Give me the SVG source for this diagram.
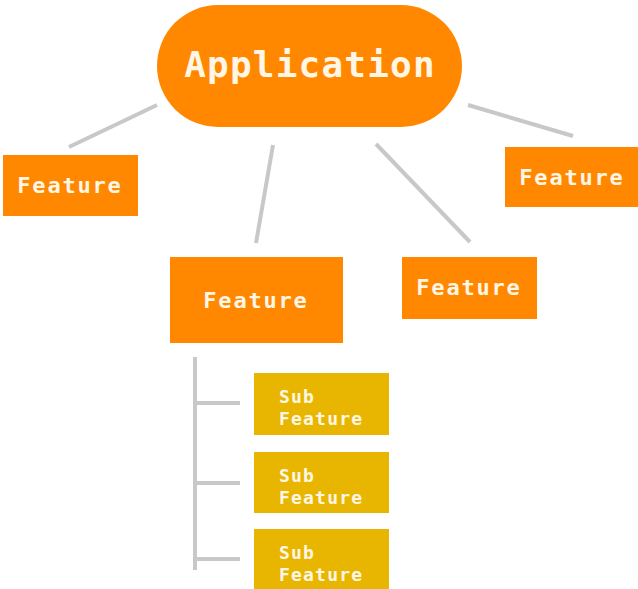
<svg xmlns="http://www.w3.org/2000/svg" width="638" height="589" viewBox="0 0 638 589">
<style>
.feat{fill:#FF8800}
.sub{fill:#E8B600}
.t{font-family:"DejaVu Sans Mono","Liberation Mono",monospace;font-weight:bold;fill:#FFF6E6}
.ft{font-size:22px;letter-spacing:1.8px;text-anchor:middle}
.st{font-size:18px;letter-spacing:1.2px}
.c{stroke:#C8C8C8;stroke-width:4;fill:none;stroke-linecap:butt}
</style>
<rect width="638" height="589" fill="#FFFFFF"/>
<g id="connectors">
<line class="c" x1="157" y1="105" x2="69" y2="147"/>
<line class="c" x1="273" y1="145" x2="256" y2="243"/>
<line class="c" x1="376" y1="144" x2="470" y2="242"/>
<line class="c" x1="468" y1="105" x2="573" y2="136"/>
<line class="c" x1="195" y1="357" x2="195" y2="570"/>
<line class="c" x1="195" y1="403" x2="240" y2="403"/>
<line class="c" x1="195" y1="483" x2="240" y2="483"/>
<line class="c" x1="195" y1="559" x2="240" y2="559"/>
</g>
<g id="app">
<rect x="157" y="5" width="305" height="122" rx="61" class="feat"/>
<text class="t" x="310" y="77" font-size="36" letter-spacing="1.2" text-anchor="middle">Application</text>
</g>
<g id="feature-left">
<rect x="3" y="155" width="135" height="61" class="feat"/>
<text class="t ft" x="70" y="193">Feature</text>
</g>
<g id="feature-mid">
<rect x="170" y="257" width="173" height="86" class="feat"/>
<text class="t ft" x="256" y="308">Feature</text>
</g>
<g id="feature-midright">
<rect x="402" y="257" width="135" height="62" class="feat"/>
<text class="t ft" x="469" y="295">Feature</text>
</g>
<g id="feature-right">
<rect x="505" y="147" width="133" height="60" class="feat"/>
<text class="t ft" x="572" y="185">Feature</text>
</g>
<g id="sub1">
<rect x="254" y="373" width="135" height="62" class="sub"/>
<text class="t st" x="279" y="403">Sub</text>
<text class="t st" x="279" y="425">Feature</text>
</g>
<g id="sub2">
<rect x="254" y="452" width="135" height="61" class="sub"/>
<text class="t st" x="279" y="482">Sub</text>
<text class="t st" x="279" y="504">Feature</text>
</g>
<g id="sub3">
<rect x="254" y="529" width="135" height="62" class="sub"/>
<text class="t st" x="279" y="559">Sub</text>
<text class="t st" x="279" y="581">Feature</text>
</g>
</svg>
